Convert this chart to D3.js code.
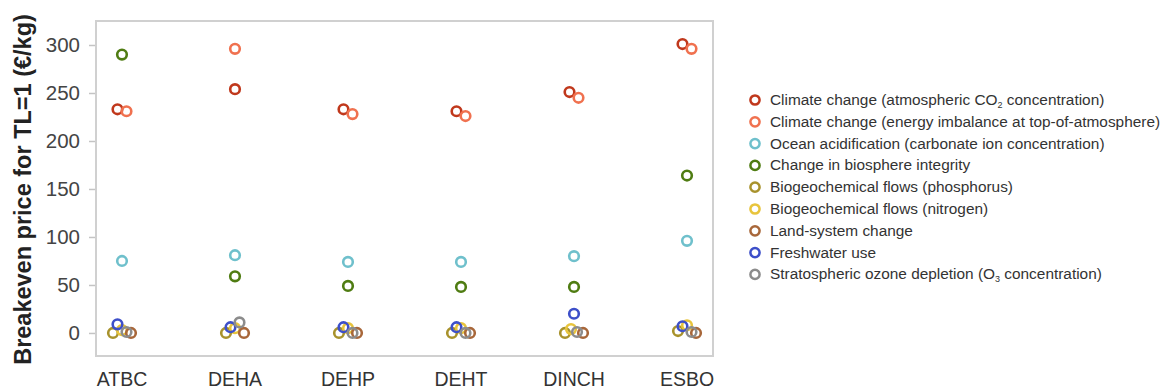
<!DOCTYPE html>
<html>
<head>
<meta charset="utf-8">
<script src="https://cdn.jsdelivr.net/npm/d3@7"></script>
<style>
  body { margin: 0; background: #fff; }
  svg { font-family: "Liberation Sans", Arial, sans-serif; }
</style>
</head>
<body>
<script>
const plasticisers = ['ATBC', 'DEHA', 'DEHP', 'DEHT', 'DINCH', 'ESBO']
const yTicks = [0, 50, 100, 150, 200, 250, 300]

const seriesKeys = ['co2', 'energy', 'ocean', 'biosphere', 'phosphorus', 'nitrogen', 'land', 'freshwater', 'ozone']
const seriesColors = ['#c0381c', '#f0714f', '#6fc0cc', '#4f7c12', '#a8922c', '#e8c43c', '#a8673a', '#3d4fc9', '#8c8c8c']

// values per plasticiser, same order as plasticisers
const co2 = [233, 254, 233, 231, 251, 301]
const energy = [231, 296, 228, 226, 245, 296]
const ocean = [75, 81, 74, 74, 80, 96]
const biosphere = [290, 59, 49, 48, 48, 164]
const phosphorus = [0, 0, 0, 0, 0, 2]
const nitrogen = [3, 5, 5, 5, 4, 8]
const land = [0, 0, 0, 0, 0, 0]
const freshwater = [9, 6, 6, 6, 20, 7]
const ozone = [1, 11, 0, 0, 1, 1]
const seriesValues = [co2, energy, ocean, biosphere, phosphorus, nitrogen, land, freshwater, ozone]

// order used for sideways dodge inside a cluster
const dodgeOrder = ['co2', 'energy', 'ocean', 'biosphere', 'phosphorus', 'freshwater', 'nitrogen', 'ozone', 'land']

const W = 1170, H = 392
const frame = { left: 96, right: 713, top: 21, bottom: 356 }

const svg = d3.select('body').append('svg')
  .attr('width', W)
  .attr('height', H)

const x = d3.scalePoint()
  .domain(plasticisers)
  .range([frame.left, frame.right])
  .padding(0.23)

const y = d3.scaleLinear()
  .domain([-24, 325])
  .range([frame.bottom, frame.top])

// frame
svg.append('rect')
  .attr('x', frame.left)
  .attr('y', frame.top)
  .attr('width', frame.right - frame.left)
  .attr('height', frame.bottom - frame.top)
  .attr('fill', 'none')
  .attr('stroke', '#d0d0d0')
  .attr('stroke-width', 2)

// y axis
const yAxis = svg.append('g')
  .attr('transform', `translate(${frame.left - 1},0)`)
  .call(d3.axisLeft(y).tickValues(yTicks).tickSize(6).tickPadding(9))
yAxis.select('.domain').remove()
yAxis.selectAll('line').attr('stroke', '#c4c4c4').attr('stroke-width', 1.5)
yAxis.selectAll('text')
  .attr('fill', '#444')
  .style('font-size', '20.5px')
  .style('font-family', '"Liberation Sans", Arial, sans-serif')

// x labels
svg.append('g').selectAll('text').data(plasticisers).enter()
  .append('text')
  .attr('x', d => x(d))
  .attr('y', 386)
  .attr('text-anchor', 'middle')
  .attr('fill', '#333')
  .style('font-size', '19.5px')
  .text(d => d)

// y title
svg.append('text')
  .attr('transform', `translate(31,${(frame.top + frame.bottom) / 2 + 1}) rotate(-90)`)
  .attr('text-anchor', 'middle')
  .attr('fill', '#222')
  .style('font-size', '23.5px')
  .style('font-weight', 'bold')
  .text('Breakeven price for TL=1 (€/kg)')

// build points, dodging overlaps sideways
let points = []
plasticisers.forEach((p, ci) => {
  let group = seriesKeys.map((k, si) => ({ key: k, si, cat: p, value: seriesValues[si][ci], py: y(seriesValues[si][ci]) }))
  group.sort((a, b) => a.py - b.py)
  let clusters = []
  group.forEach(g => {
    let last = clusters[clusters.length - 1]
    if (last && g.py - last[last.length - 1].py < 10) last.push(g)
    else clusters.push([g])
  })
  clusters.forEach(c => {
    c.sort((a, b) => dodgeOrder.indexOf(a.key) - dodgeOrder.indexOf(b.key))
    let k = c.length
    let s = k > 1 ? Math.min(9, 18 / (k - 1)) : 0
    c.forEach((g, i) => { g.dx = (i - (k - 1) / 2) * s })
  })
  points = points.concat(group)
})
points.sort((a, b) => a.si - b.si)

svg.append('g').selectAll('circle').data(points).enter()
  .append('circle')
  .attr('cx', d => x(d.cat) + d.dx)
  .attr('cy', d => d.py)
  .attr('r', 4.8)
  .attr('fill', 'none')
  .attr('stroke', d => seriesColors[d.si])
  .attr('stroke-width', 2.6)

// legend
const legendLabels = [
  ['Climate change (atmospheric CO', '2', ' concentration)'],
  ['Climate change (energy imbalance at top-of-atmosphere)'],
  ['Ocean acidification (carbonate ion concentration)'],
  ['Change in biosphere integrity'],
  ['Biogeochemical flows (phosphorus)'],
  ['Biogeochemical flows (nitrogen)'],
  ['Land-system change'],
  ['Freshwater use'],
  ['Stratospheric ozone depletion (O', '3', ' concentration)']
]

const legend = svg.append('g').attr('transform', 'translate(755,100)')
const rows = legend.selectAll('g').data(legendLabels).enter()
  .append('g')
  .attr('transform', (d, i) => `translate(0,${i * 21.8})`)

rows.append('circle')
  .attr('r', 4.6)
  .attr('fill', 'none')
  .attr('stroke', (d, i) => seriesColors[i])
  .attr('stroke-width', 2.5)

rows.append('text')
  .attr('x', 15)
  .attr('y', 5)
  .attr('fill', '#333')
  .style('font-size', '15.4px')
  .each(function (d) {
    let t = d3.select(this)
    t.append('tspan').text(d[0])
    if (d.length > 1) {
      t.append('tspan').attr('dy', 3).style('font-size', '9px').text(d[1])
      t.append('tspan').attr('dy', -3).text(d[2])
    }
  })
</script>
</body>
</html>
